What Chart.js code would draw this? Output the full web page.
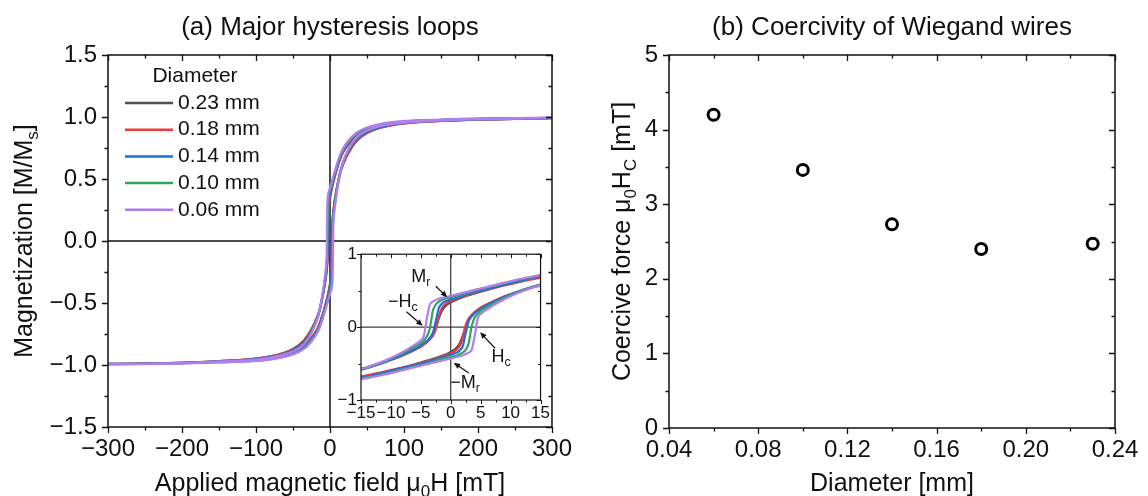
<!DOCTYPE html>
<html>
<head>
<meta charset="utf-8">
<script src="https://cdn.jsdelivr.net/npm/chart.js@4.4.1/dist/chart.umd.min.js"></script>
<style>
  html, body { margin: 0; padding: 0; background: #fff; }
  #wrap { position: relative; width: 1148px; height: 496px; overflow: hidden; }
  canvas { position: absolute; }
  #loops { left: 0; top: 0; }
  #coer { left: 580px; top: 0; }
  #inset { left: 330px; top: 240px; }
</style>
</head>
<body>
<div id="wrap">
  <canvas id="loops" width="580" height="496"></canvas>
  <canvas id="coer" width="568" height="496"></canvas>
  <canvas id="inset" width="223" height="186"></canvas>
</div>
<script>
// ---- data ----
const diameters = ['0.23 mm', '0.18 mm', '0.14 mm', '0.10 mm', '0.06 mm'];

// applied field (mT): descending branch (+sat -> -sat) and ascending branch
const fieldDown = [300, 150, 80, 50, 35, 25, 18, 14, 11, 8, 6, 4, 2, 0, -1, -1.5, -2, -2.5, -3, -3.5, -4, -4.5, -5, -6, -8, -11, -14, -18, -25, -35, -50, -80, -150, -300];
const fieldUp = [-300, -150, -80, -50, -35, -25, -18, -14, -11, -8, -6, -4, -2, 0, 1, 1.5, 2, 2.5, 3, 3.5, 4, 4.5, 5, 6, 8, 11, 14, 18, 25, 35, 50, 80, 150, 300];

// M/Ms on each branch
const d23Down = [0.992, 0.974, 0.944, 0.90, 0.85, 0.78, 0.72, 0.67, 0.62, 0.56, 0.51, 0.46, 0.41, 0.34, 0.28, 0.22, 0.12, -0.01, -0.10, -0.15, -0.20, -0.23, -0.26, -0.31, -0.38, -0.47, -0.55, -0.62, -0.71, -0.80, -0.87, -0.93, -0.968, -0.99];
const d23Up = [-0.992, -0.974, -0.944, -0.90, -0.85, -0.78, -0.72, -0.67, -0.62, -0.56, -0.51, -0.46, -0.41, -0.34, -0.28, -0.22, -0.12, 0.01, 0.10, 0.15, 0.20, 0.23, 0.26, 0.31, 0.38, 0.47, 0.55, 0.62, 0.71, 0.80, 0.87, 0.93, 0.968, 0.99];
const d18Down = [0.992, 0.974, 0.944, 0.90, 0.85, 0.78, 0.72, 0.66, 0.61, 0.55, 0.51, 0.47, 0.42, 0.36, 0.31, 0.26, 0.15, -0.03, -0.12, -0.17, -0.21, -0.24, -0.27, -0.31, -0.39, -0.48, -0.56, -0.63, -0.72, -0.81, -0.875, -0.93, -0.968, -0.99];
const d18Up = [-0.992, -0.974, -0.944, -0.90, -0.85, -0.78, -0.72, -0.66, -0.61, -0.55, -0.51, -0.47, -0.42, -0.36, -0.31, -0.26, -0.15, 0.03, 0.12, 0.17, 0.21, 0.24, 0.27, 0.31, 0.39, 0.48, 0.56, 0.63, 0.72, 0.81, 0.875, 0.93, 0.968, 0.99];
const d14Down = [0.993, 0.976, 0.948, 0.905, 0.86, 0.79, 0.73, 0.68, 0.62, 0.56, 0.52, 0.48, 0.43, 0.38, 0.35, 0.32, 0.26, 0.08, -0.08, -0.15, -0.19, -0.22, -0.25, -0.30, -0.38, -0.48, -0.56, -0.64, -0.73, -0.82, -0.88, -0.935, -0.97, -0.99];
const d14Up = [-0.993, -0.976, -0.948, -0.905, -0.86, -0.79, -0.73, -0.68, -0.62, -0.56, -0.52, -0.48, -0.43, -0.38, -0.35, -0.32, -0.26, -0.08, 0.08, 0.15, 0.19, 0.22, 0.25, 0.30, 0.38, 0.48, 0.56, 0.64, 0.73, 0.82, 0.88, 0.935, 0.97, 0.99];
const d10Down = [0.994, 0.978, 0.952, 0.91, 0.865, 0.80, 0.74, 0.69, 0.64, 0.58, 0.54, 0.50, 0.45, 0.41, 0.39, 0.37, 0.35, 0.31, 0.22, -0.02, -0.13, -0.18, -0.22, -0.27, -0.36, -0.47, -0.56, -0.64, -0.74, -0.83, -0.89, -0.94, -0.973, -0.992];
const d10Up = [-0.994, -0.978, -0.952, -0.91, -0.865, -0.80, -0.74, -0.69, -0.64, -0.58, -0.54, -0.50, -0.45, -0.41, -0.39, -0.37, -0.35, -0.31, -0.22, 0.02, 0.13, 0.18, 0.22, 0.27, 0.36, 0.47, 0.56, 0.64, 0.74, 0.83, 0.89, 0.94, 0.973, 0.992];
const d06Down = [0.995, 0.98, 0.955, 0.915, 0.87, 0.81, 0.75, 0.70, 0.65, 0.59, 0.55, 0.51, 0.47, 0.43, 0.41, 0.40, 0.39, 0.37, 0.35, 0.31, 0.12, -0.12, -0.18, -0.24, -0.34, -0.46, -0.55, -0.64, -0.74, -0.83, -0.89, -0.94, -0.973, -0.992];
const d06Up = [-0.995, -0.98, -0.955, -0.915, -0.87, -0.81, -0.75, -0.70, -0.65, -0.59, -0.55, -0.51, -0.47, -0.43, -0.41, -0.40, -0.39, -0.37, -0.35, -0.31, -0.12, 0.12, 0.18, 0.24, 0.34, 0.46, 0.55, 0.64, 0.74, 0.83, 0.89, 0.94, 0.973, 0.992];

const loopDown = [d23Down, d18Down, d14Down, d10Down, d06Down];
const loopUp = [d23Up, d18Up, d14Up, d10Up, d06Up];

// panel (b)
const wireDiameter = [0.06, 0.10, 0.14, 0.18, 0.23];
const coerciveForce = [4.20, 3.46, 2.73, 2.40, 2.47];

// tick labels
const fieldTicks = [-300, -200, -100, 0, 100, 200, 300];
const magTicks = [-1.5, -1.0, -0.5, 0, 0.5, 1.0, 1.5];
const insetFieldTicks = [-15, -10, -5, 0, 5, 10, 15];
const insetMagTicks = [-1, 0, 1];
const diamTicks = [0.04, 0.08, 0.12, 0.16, 0.20, 0.24];
const forceTicks = [0, 1, 2, 3, 4, 5];

// ---- styles ----
const lineColors = ['#505050', '#f2393c', '#1f6fe0', '#2fa65c', '#b37cf2'];
const FONT = "'Liberation Sans', Arial, sans-serif";
const INK = '#111';
Chart.defaults.font.family = FONT;

const minus = s => String(s).replace('-', '\u2212');

function richText(ctx, parts, x, y, size, rotate, align) {
  ctx.save();
  ctx.translate(x, y);
  if (rotate) ctx.rotate(-Math.PI / 2);
  ctx.textBaseline = 'middle';
  ctx.textAlign = 'left';
  ctx.fillStyle = INK;
  const fontOf = p => (p.sub ? size * 0.68 : size) + 'px ' + FONT;
  const widths = parts.map(p => { ctx.font = fontOf(p); return ctx.measureText(p.t).width; });
  const total = widths.reduce((a, b) => a + b, 0);
  let cx = align === 'left' ? 0 : -total / 2;
  parts.forEach((p, i) => {
    ctx.font = fontOf(p);
    ctx.fillText(p.t, cx, p.sub ? size * 0.32 : 0);
    cx += widths[i];
  });
  ctx.restore();
}

function arrow(ctx, x1, y1, x2, y2) {
  const ang = Math.atan2(y2 - y1, x2 - x1), h = 7;
  ctx.beginPath();
  ctx.moveTo(x1, y1);
  ctx.lineTo(x2 - Math.cos(ang) * h * 0.7, y2 - Math.sin(ang) * h * 0.7);
  ctx.stroke();
  ctx.beginPath();
  ctx.moveTo(x2, y2);
  ctx.lineTo(x2 - h * Math.cos(ang - 0.42), y2 - h * Math.sin(ang - 0.42));
  ctx.lineTo(x2 - h * Math.cos(ang + 0.42), y2 - h * Math.sin(ang + 0.42));
  ctx.closePath();
  ctx.fill();
}

// origin-style ticks: out on left/bottom, in on top/right
function drawTicks(ctx, scale, a, horizontal, major, minor) {
  const vals = scale.ticks.map(t => t.value);
  const marks = vals.map(v => [v, major]);
  for (let i = 0; i + 1 < vals.length; i++) marks.push([(vals[i] + vals[i + 1]) / 2, minor]);
  ctx.beginPath();
  marks.forEach(([v, len]) => {
    const p = Math.round(scale.getPixelForValue(v)) + 0.5;
    if (horizontal) {
      ctx.moveTo(p, a.bottom); ctx.lineTo(p, a.bottom + len);
      ctx.moveTo(p, a.top); ctx.lineTo(p, a.top + len);
    } else {
      ctx.moveTo(a.left, p); ctx.lineTo(a.left - len, p);
      ctx.moveTo(a.right, p); ctx.lineTo(a.right - len, p);
    }
  });
  ctx.stroke();
}

function makeFrame(cfg) {
  return {
    id: 'frame',
    beforeDatasetsDraw(chart) {
      const { ctx, chartArea: a, scales } = chart;
      ctx.save();
      if (cfg.whiteBack) {
        ctx.fillStyle = '#fff';
        ctx.fillRect(a.left, a.top, a.width, a.height);
      }
      if (cfg.zeroLines) {
        ctx.strokeStyle = INK;
        ctx.lineWidth = cfg.zeroWidth;
        const x0 = scales.x.getPixelForValue(0), y0 = scales.y.getPixelForValue(0);
        ctx.beginPath();
        ctx.moveTo(x0, a.top); ctx.lineTo(x0, a.bottom);
        ctx.moveTo(a.left, y0); ctx.lineTo(a.right, y0);
        ctx.stroke();
      }
      ctx.restore();
    },
    afterDatasetsDraw(chart) {
      const { ctx, chartArea: a, scales } = chart;
      ctx.save();
      ctx.strokeStyle = INK;
      ctx.fillStyle = INK;
      ctx.lineWidth = cfg.frameWidth;
      ctx.strokeRect(a.left, a.top, a.width, a.height);
      ctx.lineWidth = cfg.tickWidth;
      drawTicks(ctx, scales.x, a, true, cfg.major, cfg.minor);
      drawTicks(ctx, scales.y, a, false, cfg.major, cfg.minor);
      (cfg.notes || []).forEach(n => {
        ctx.lineWidth = 1.2;
        arrow(ctx, scales.x.getPixelForValue(n.from[0]), scales.y.getPixelForValue(n.from[1]),
          scales.x.getPixelForValue(n.to[0]), scales.y.getPixelForValue(n.to[1]));
        richText(ctx, n.parts, scales.x.getPixelForValue(n.at[0]), scales.y.getPixelForValue(n.at[1]), 18);
      });
      ctx.restore();
    },
    afterDraw(chart) {
      const { ctx, chartArea: a } = chart;
      const cx = (a.left + a.right) / 2, cy = (a.top + a.bottom) / 2;
      if (cfg.title) richText(ctx, [{ t: cfg.title }], cx, 28, 26);
      if (cfg.xTitle) richText(ctx, cfg.xTitle, cx, 484, 25);
      if (cfg.yTitle) richText(ctx, cfg.yTitle, cfg.yTitleX, cy, 25, true);
      if (cfg.legend) {
        richText(ctx, [{ t: 'Diameter' }], 195, 76, 21);
        chart.data.datasets.forEach((ds, i) => {
          const y = 103 + i * 26.7;
          ctx.save();
          ctx.strokeStyle = ds.borderColor;
          ctx.lineWidth = 2.5;
          ctx.beginPath(); ctx.moveTo(125, y); ctx.lineTo(173, y); ctx.stroke();
          ctx.restore();
          richText(ctx, [{ t: ds.label }], 178, y, 21, false, 'left');
        });
      }
    }
  };
}

function loopDatasets(width) {
  return diameters.map((label, i) => ({
    label: label,
    data: fieldDown.map((h, k) => ({ x: h, y: loopDown[i][k] }))
      .concat(fieldUp.map((h, k) => ({ x: h, y: loopUp[i][k] }))),
    showLine: true,
    borderColor: lineColors[i],
    borderWidth: width,
    pointRadius: 0,
    cubicInterpolationMode: 'monotone',
    order: diameters.length - 1 - i
  }));
}

function axis(min, max, ticks, fmt, size, pad, fit, isX) {
  return {
    type: 'linear', min: min, max: max,
    grid: { display: false, drawTicks: false },
    border: { display: false },
    afterBuildTicks: s => { s.ticks = ticks.map(v => ({ value: v })); },
    afterFit: s => { if (isX) s.height = fit; else s.width = fit; },
    ticks: { autoSkip: false, maxRotation: 0, minRotation: 0, padding: pad, color: INK,
      font: { family: FONT, size: size }, callback: fmt }
  };
}

const quiet = { legend: { display: false }, tooltip: { enabled: false } };

// (a) major loops
new Chart(document.getElementById('loops'), {
  type: 'scatter',
  data: { datasets: loopDatasets(2.2) },
  options: {
    responsive: false, animation: false,
    layout: { padding: { left: 0, top: 55, right: 24, bottom: 0 } },
    plugins: quiet,
    scales: {
      x: axis(-300, 300, fieldTicks, v => minus(v), 24, 8, 69, true),
      y: axis(-1.5, 1.5, magTicks, v => minus(v.toFixed(1)), 24, 11, 108, false)
    }
  },
  plugins: [makeFrame({
    frameWidth: 1.5, tickWidth: 1.3, major: 6, minor: 3.5, zeroLines: true, zeroWidth: 1.5,
    title: '(a) Major hysteresis loops',
    xTitle: [{ t: 'Applied magnetic field \u03bc' }, { t: '0', sub: true }, { t: 'H [mT]' }],
    yTitle: [{ t: 'Magnetization [M/M' }, { t: 's', sub: true }, { t: ']' }],
    yTitleX: 25, legend: true
  })]
});

// inset: zoom around the origin
const insetNotes = [
  { parts: [{ t: 'M' }, { t: 'r', sub: true }], at: [-5.0, 0.69], from: [-2.5, 0.56], to: [-0.6, 0.41] },
  { parts: [{ t: '\u2212H' }, { t: 'c', sub: true }], at: [-8.0, 0.34], from: [-7.4, 0.21], to: [-4.7, 0.02] },
  { parts: [{ t: 'H' }, { t: 'c', sub: true }], at: [8.4, -0.41], from: [7.4, -0.29], to: [4.9, -0.07] },
  { parts: [{ t: '\u2212M' }, { t: 'r', sub: true }], at: [2.4, -0.77], from: [3.0, -0.63], to: [0.5, -0.49] }
];

new Chart(document.getElementById('inset'), {
  type: 'scatter',
  data: { datasets: loopDatasets(2.2) },
  options: {
    responsive: false, animation: false,
    layout: { padding: { left: 0, top: 11, right: 10, bottom: 0 } },
    plugins: quiet,
    scales: {
      x: axis(-15, 15, insetFieldTicks, v => minus(v), 17, 3, 26, true),
      y: axis(-1, 1, insetMagTicks, v => minus(v), 17, 4, 31, false)
    }
  },
  plugins: [makeFrame({
    frameWidth: 1.2, tickWidth: 1, major: 4, minor: 2.5, zeroLines: true, zeroWidth: 1,
    whiteBack: true, notes: insetNotes
  })]
});

// (b) coercivity
new Chart(document.getElementById('coer'), {
  type: 'scatter',
  data: {
    datasets: [{
      label: 'Coercive force',
      data: wireDiameter.map((d, i) => ({ x: d, y: coerciveForce[i] })),
      pointRadius: 5.5,
      borderWidth: 3,
      borderColor: '#000',
      backgroundColor: 'rgba(255,255,255,0)'
    }]
  },
  options: {
    responsive: false, animation: false,
    layout: { padding: { left: 0, top: 55, right: 33, bottom: 0 } },
    plugins: quiet,
    scales: {
      x: axis(0.04, 0.24, diamTicks, v => v.toFixed(2), 24, 8, 68, true),
      y: axis(0, 5, forceTicks, v => String(v), 24, 11, 89, false)
    }
  },
  plugins: [makeFrame({
    frameWidth: 1.5, tickWidth: 1.3, major: 6, minor: 3.5,
    title: '(b) Coercivity of Wiegand wires',
    xTitle: [{ t: 'Diameter [mm]' }],
    yTitle: [{ t: 'Coercive force \u03bc' }, { t: '0', sub: true }, { t: 'H' }, { t: 'C', sub: true }, { t: ' [mT]' }],
    yTitleX: 43
  })]
});
</script>
</body>
</html>
